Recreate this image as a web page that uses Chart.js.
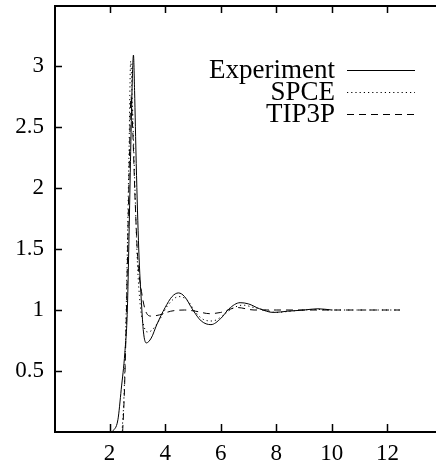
<!DOCTYPE html>
<html>
<head>
<meta charset="utf-8">
<script src="https://cdn.jsdelivr.net/npm/chart.js@4"></script>
<style>
  html, body { margin: 0; padding: 0; background: #fff; }
  #wrap { width: 436px; height: 464px; }
</style>
</head>
<body>
<div id="wrap"><canvas id="rdf" width="436" height="464"></canvas></div>
<script>
// g(r) of water
const seriesNames = ['Experiment', 'SPCE', 'TIP3P'];

const expR = [2.1, 2.3, 2.42, 2.55, 2.64, 2.7, 2.76, 2.82, 2.86, 2.9, 2.96, 3.05, 3.15, 3.22, 3.32, 3.5, 3.7, 4.0, 4.25, 4.48, 4.7, 5.0, 5.3, 5.65, 6.0, 6.3, 6.7, 7.0, 7.4, 7.9, 8.4, 9.0, 9.5, 10.0];
const expG = [0, 0.1, 0.35, 0.65, 1.0, 1.6, 2.3, 2.9, 3.09, 2.8, 2.2, 1.5, 1.05, 0.82, 0.73, 0.77, 0.88, 1.02, 1.11, 1.14, 1.11, 1.0, 0.91, 0.88, 0.93, 1.01, 1.06, 1.05, 1.01, 0.98, 0.99, 1.0, 1.01, 1.0];

const spceR = [2.45, 2.52, 2.58, 2.64, 2.7, 2.76, 2.82, 2.9, 3.0, 3.1, 3.2, 3.35, 3.5, 3.8, 4.1, 4.5, 4.8, 5.1, 5.4, 5.7, 6.0, 6.4, 6.8, 7.2, 7.6, 8.0, 8.5, 9.0, 9.5, 10.0, 11.0, 12.0, 12.45];
const spceG = [0, 0.3, 0.8, 1.5, 2.3, 3.04, 2.7, 2.1, 1.4, 1.05, 0.9, 0.82, 0.83, 0.92, 1.04, 1.11, 1.08, 0.98, 0.92, 0.91, 0.94, 1.01, 1.04, 1.02, 1.0, 0.98, 0.99, 1.0, 1.005, 1.0, 1.0, 1.0, 1.0];

const tipR = [2.47, 2.53, 2.6, 2.66, 2.72, 2.77, 2.83, 2.92, 3.02, 3.15, 3.3, 3.5, 3.8, 4.2, 4.7, 5.1, 5.6, 6.0, 6.6, 7.2, 8.0, 9.0, 10.0, 11.0, 12.0, 12.45];
const tipG = [0, 0.3, 0.9, 1.6, 2.3, 2.75, 2.5, 1.9, 1.4, 1.15, 0.99, 0.95, 0.96, 0.99, 1.0, 0.99, 0.97, 0.98, 1.02, 1.0, 1.0, 1.0, 1.0, 1.0, 1.0, 1.0];

const xTicks = [2, 4, 6, 8, 10, 12];
const yTicks = [0.5, 1, 1.5, 2, 2.5, 3];

const serif = '"Liberation Serif", "DejaVu Serif", serif';

function points(rs, gs) { return rs.map((r, i) => ({ x: r, y: gs[i] })); }

const legendY = [70, 92, 114];

const framePlugin = {
  id: 'frame',
  afterDatasetsDraw(chart) {
    const { ctx, chartArea: a, scales } = chart;
    ctx.save();
    ctx.strokeStyle = '#000';
    ctx.lineWidth = 1.5;
    ctx.beginPath();
    xTicks.forEach((v) => {
      const px = Math.round(scales.x.getPixelForValue(v)) + 0.5;
      ctx.moveTo(px, a.bottom); ctx.lineTo(px, a.bottom - 8);
      ctx.moveTo(px, a.top); ctx.lineTo(px, a.top + 8);
    });
    yTicks.forEach((v) => {
      const py = Math.round(scales.y.getPixelForValue(v)) + 0.5;
      ctx.moveTo(a.left, py); ctx.lineTo(a.left + 8, py);
    });
    ctx.stroke();
    ctx.lineWidth = 2;
    ctx.strokeRect(a.left + 1, a.top + 1, a.right - a.left + 4, a.bottom - a.top - 1);

    // key: text right aligned, sample line to the right
    ctx.font = '27px ' + serif;
    ctx.fillStyle = '#000';
    ctx.textAlign = 'right';
    ctx.textBaseline = 'middle';
    chart.data.datasets.forEach((ds, i) => {
      const y = legendY[i];
      ctx.fillText(ds.label, 335, y + 1);
      ctx.setLineDash(ds.borderDash || []);
      ctx.lineWidth = 1;
      ctx.beginPath();
      ctx.moveTo(347, y + 0.5);
      ctx.lineTo(415, y + 0.5);
      ctx.stroke();
    });
    ctx.restore();
  }
};

new Chart(document.getElementById('rdf'), {
  type: 'line',
  data: {
    datasets: [
      { label: seriesNames[0], data: points(expR, expG), borderDash: [] },
      { label: seriesNames[1], data: points(spceR, spceG), borderDash: [1.2, 3] },
      { label: seriesNames[2], data: points(tipR, tipG), borderDash: [7, 5] }
    ].map((ds) => Object.assign(ds, {
      borderColor: '#000',
      borderWidth: 1,
      pointRadius: 0,
      fill: false,
      cubicInterpolationMode: 'monotone'
    }))
  },
  options: {
    responsive: false,
    animation: false,
    events: [],
    layout: { padding: { top: 5, right: 0, left: 0, bottom: 0 } },
    plugins: { legend: { display: false }, tooltip: { enabled: false } },
    scales: {
      x: {
        type: 'linear',
        min: 0,
        max: 13.75,
        grid: { display: false, drawTicks: false },
        border: { display: false },
        afterBuildTicks: (s) => { s.ticks = xTicks.map((v) => ({ value: v })); },
        afterFit: (s) => { s.height = 32; s.paddingLeft = 0; s.paddingRight = 0; },
        ticks: { color: '#000', font: { family: serif, size: 23 }, padding: 8, maxRotation: 0, callback: (v) => String(v) }
      },
      y: {
        min: 0,
        max: 3.5,
        grid: { display: false, drawTicks: false },
        border: { display: false },
        afterBuildTicks: (s) => { s.ticks = yTicks.map((v) => ({ value: v })); },
        afterFit: (s) => { s.width = 54; s.paddingTop = 0; s.paddingBottom = 0; },
        ticks: { color: '#000', font: { family: serif, size: 23 }, padding: 10, callback: (v) => String(v) }
      }
    }
  },
  plugins: [framePlugin]
});
</script>
</body>
</html>
